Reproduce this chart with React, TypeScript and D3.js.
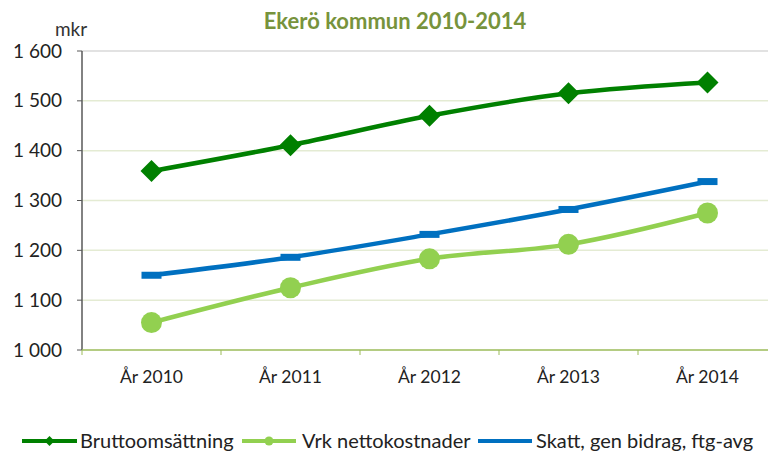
import React from "react";
import * as d3 from "d3";

const categories = ["År 2010", "År 2011", "År 2012", "År 2013", "År 2014"];
const brutto = [1359, 1411, 1470, 1515, 1537];
const vrk = [1055, 1125, 1183, 1212, 1275];
const skatt = [1150, 1186, 1232, 1282, 1338];
const yTicks = [1000, 1100, 1200, 1300, 1400, 1500, 1600];
const seriesNames = ["Bruttoomsättning", "Vrk nettokostnader", "Skatt, gen bidrag, ftg-avg"];

const W = 768, H = 452;
const FONT = "Lato, 'Open Sans', sans-serif";
const C1 = "#008000", C2 = "#92d050", C3 = "#0070c0";

export default function App() {
  const x = d3.scaleBand<string>().domain(categories).range([82, 777]);
  const y = d3.scaleLinear().domain([1000, 1600]).range([350, 51]);
  const cx = (c: string) => (x(c) as number) + x.bandwidth() / 2;
  const line = d3.line<number>()
    .x((_, i) => cx(categories[i]))
    .y((v) => y(v))
    .curve(d3.curveCatmullRom.alpha(0.5));
  const fmt = (v: number) => d3.format(",")(v).replace(",", " ");
  const diamond = (px: number, py: number, r: number) =>
    `M${px},${py - r}L${px + r},${py}L${px},${py + r}L${px - r},${py}Z`;

  return (
    <svg width={W} height={H} style={{ position: "absolute", left: 0, top: 0 }}>
      <rect width={W} height={H} fill="#fff" />
      <text x={395} y={29} textAnchor="middle" fontFamily={FONT} fontWeight="bold" fontSize={22} fill="#77933c">
        Ekerö kommun 2010-2014
      </text>
      <text x={71} y={36} textAnchor="middle" fontFamily={FONT} fontSize={19} fill="#333">mkr</text>
      {yTicks.map((t) => (
        <g key={t}>
          {t !== 1000 && (
            <line x1={82} x2={W} y1={y(t)} y2={y(t)} stroke={t === 1600 ? "#d9d9d9" : "#e4ebd3"} strokeWidth={1.5} />
          )}
          <line x1={77} x2={82} y1={y(t)} y2={y(t)} stroke="#595959" strokeWidth={1} />
          <text x={62} y={y(t)} dy="0.35em" textAnchor="end" fontFamily={FONT} fontSize={19} fill="#222">
            {fmt(t)}
          </text>
        </g>
      ))}
      <line x1={82} x2={82} y1={51} y2={350} stroke="#595959" strokeWidth={1.5} />
      <line x1={82} x2={W} y1={350} y2={350} stroke="#9bbb59" strokeWidth={1.5} />
      {categories.map((c) => (
        <g key={c}>
          <line x1={x(c) as number} x2={x(c) as number} y1={350} y2={355} stroke="#9bbb59" strokeWidth={1} />
          <text x={cx(c)} y={377} dy="0.35em" textAnchor="middle" fontFamily={FONT} fontSize={17.5} fill="#222">
            {c}
          </text>
        </g>
      ))}
      <path d={line(vrk) as string} fill="none" stroke={C2} strokeWidth={4.5} />
      <path d={line(skatt) as string} fill="none" stroke={C3} strokeWidth={4.5} />
      <path d={line(brutto) as string} fill="none" stroke={C1} strokeWidth={4.5} />
      {vrk.map((v, i) => (
        <circle key={"v" + i} cx={cx(categories[i])} cy={y(v)} r={10.5} fill={C2} />
      ))}
      {skatt.map((v, i) => (
        <rect key={"s" + i} x={cx(categories[i]) - 10} y={y(v) - 3.5} width={20} height={7} fill={C3} />
      ))}
      {brutto.map((v, i) => (
        <path key={"b" + i} d={diamond(cx(categories[i]), y(v), 11)} fill={C1} />
      ))}
      <g>
        <line x1={22} x2={77} y1={441} y2={441} stroke={C1} strokeWidth={4} />
        <path d={diamond(49.5, 441, 5)} fill={C1} />
        <text x={80} y={441} dy="0.35em" fontFamily={FONT} fontSize={20} fill="#222">{seriesNames[0]}</text>
        <line x1={242} x2={296} y1={441} y2={441} stroke={C2} strokeWidth={4} />
        <circle cx={269} cy={441} r={4.5} fill={C2} />
        <text x={302} y={441} dy="0.35em" fontFamily={FONT} fontSize={20} fill="#222">{seriesNames[1]}</text>
        <line x1={478} x2={532} y1={441} y2={441} stroke={C3} strokeWidth={4} />
        <text x={536} y={441} dy="0.35em" fontFamily={FONT} fontSize={20} fill="#222">{seriesNames[2]}</text>
      </g>
    </svg>
  );
}
